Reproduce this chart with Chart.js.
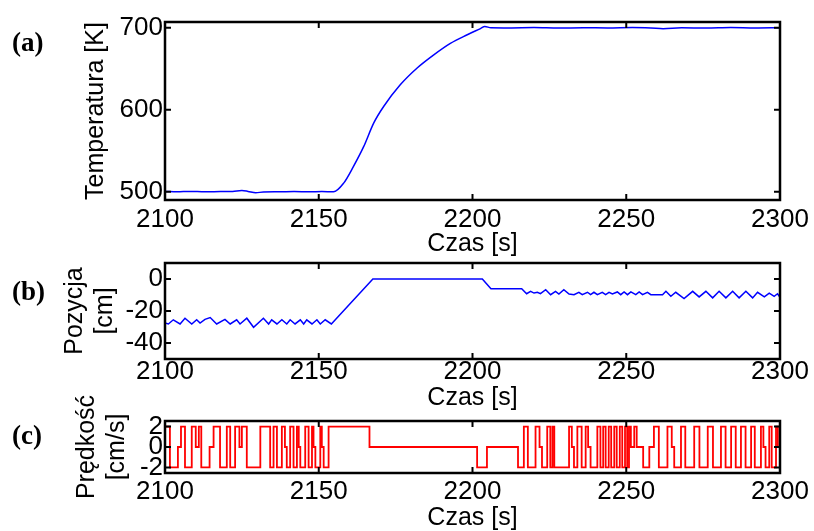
<!DOCTYPE html>
<html>
<head>
<meta charset="utf-8">
<script src="https://cdn.jsdelivr.net/npm/chart.js@4.4.0/dist/chart.umd.min.js"></script>
<style>
  html, body { margin: 0; padding: 0; background: #fff; }
  #wrap { position: relative; width: 814px; height: 531px; overflow: hidden; background: #fff; }
  #wrap canvas { position: absolute; left: 0; top: 0; }
  .tag { position: absolute; left: 12px; font-family: "Liberation Serif", "Times New Roman", serif; font-weight: bold; font-size: 27px; line-height: 1; color: #000; }
</style>
</head>
<body>
<div id="wrap">
  <canvas id="chartA" width="814" height="560"></canvas>
  <canvas id="chartB" width="814" height="560"></canvas>
  <canvas id="chartC" width="814" height="560"></canvas>
  <div class="tag" style="top:29px">(a)</div>
  <div class="tag" style="top:278px">(b)</div>
  <div class="tag" style="top:422px">(c)</div>
</div>
<script>
// --- dane ---
const timeTicks = [2100, 2150, 2200, 2250, 2300];
const tempTicks = [500, 600, 700];
const posTicks = [-40, -20, 0];
const velTicks = [-2, 0, 2];

// (a) temperatura [K]
const tempTime = [2100, 2104, 2108, 2113, 2118, 2122, 2125, 2127, 2129.5, 2132,
  2137, 2142, 2147, 2151, 2154.8, 2158.1, 2161.3, 2164.6, 2167.9, 2171.1,
  2176.5, 2182, 2187.4, 2192.8, 2198.3, 2202.6, 2204, 2206, 2212, 2220,
  2228, 2236, 2244, 2252, 2258, 2262, 2268, 2276, 2284, 2292, 2300];
const tempValue = [500.5, 500, 500.5, 500, 500.3, 500.5, 501.5, 500.5, 498.8, 499.8,
  500, 500.4, 500, 500.3, 500, 510.6, 531, 555, 584, 604,
  630.5, 651, 667, 681, 691.5, 699, 701.5, 700, 699.8, 700.2,
  699.6, 700, 699.8, 700.3, 699.7, 698.8, 700, 699.6, 700.2, 699.7, 700];

// (b) pozycja [cm]
const posTime = [2100, 2101.1, 2102.7, 2104.9, 2106.5, 2108.7, 2110.3, 2111.4, 2113.0, 2114.7,
  2116.8, 2119.5, 2121.2, 2123.3, 2124.4, 2126.6, 2128.8, 2132.0, 2133.7, 2134.7,
  2136.4, 2138.0, 2139.6, 2140.7, 2142.3, 2144.0, 2145.1, 2146.1, 2147.8, 2149.4,
  2150.5, 2152.1, 2154.1, 2167.6, 2203.2, 2206.0, 2216.0, 2217.6, 2218.9, 2220.0,
  2221.1, 2222.1, 2223.8, 2225.4, 2227.0, 2228.1, 2229.7, 2231.4, 2233.0, 2234.6,
  2235.7, 2237.4, 2238.4, 2239.5, 2240.6, 2242.2, 2243.3, 2244.4, 2245.5, 2247.1,
  2248.2, 2249.3, 2250.4, 2251.5, 2253.1, 2254.2, 2255.3, 2256.9, 2258.0, 2261.8,
  2262.9, 2264.5, 2266.1, 2268.8, 2271.6, 2273.7, 2275.9, 2278.1, 2280.2, 2282.4,
  2284.6, 2286.7, 2288.9, 2291.1, 2292.7, 2294.9, 2296.5, 2298.1, 2299.2, 2300];
const posValue = [-27.5, -28.1, -25.5, -28.1, -24.5, -28.1, -25.5, -27.5, -25.2, -24.1,
  -28.1, -25.2, -28.1, -25.5, -28.1, -24.5, -30.2, -24.5, -28.1, -25.5,
  -28.1, -25.5, -28.1, -25.5, -28.1, -25.5, -28.1, -25.5, -28.1, -25.5,
  -28.1, -25.5, -28.1, 0, 0, -6.1, -6.1, -9.2, -7.7, -8.8,
  -8.3, -9.2, -6.7, -9.8, -7.7, -9.4, -6.7, -9.4, -9.8, -8.3,
  -9.8, -8.3, -9.8, -8.3, -9.8, -8.3, -9.8, -8.3, -9.4, -8.1,
  -9.8, -8.1, -9.8, -8.1, -9.8, -8.1, -9.8, -8.3, -9.8, -9.8,
  -7.7, -10.8, -8.3, -12.2, -7.7, -11.2, -7.7, -11.8, -7.7, -11.8,
  -7.7, -11.8, -7.7, -11.8, -8.3, -11.2, -8.8, -10.8, -9.2, -11.5];

// (c) prędkość [cm/s] - chwile przełączeń (wartość obowiązuje od danej chwili)
const velTime = [2100, 2101.6, 2104.2, 2105.2, 2106.5, 2108.7, 2110.0, 2111.0, 2111.8, 2114.5,
  2115.8, 2117.9, 2120.1, 2121.2, 2122.8, 2124.2, 2125.0, 2126.6, 2131.0, 2134.2,
  2135.3, 2136.4, 2138.0, 2139.0, 2139.6, 2140.7, 2141.8, 2142.9, 2143.5, 2144.0,
  2145.6, 2146.7, 2147.8, 2148.3, 2148.9, 2150.5, 2151.0, 2151.6, 2153.2, 2166.5,
  2201.5, 2204.7, 2214.8, 2216.7, 2218.0, 2220.5, 2221.8, 2222.6, 2224.3, 2225.3,
  2226.0, 2226.6, 2231.4, 2232.3, 2233.0, 2234.1, 2235.5, 2236.8, 2237.6, 2238.4,
  2240.6, 2241.6, 2242.5, 2243.3, 2244.3, 2245.1, 2246.1, 2246.9, 2247.9, 2248.7,
  2249.6, 2250.3, 2250.9, 2251.5, 2252.6, 2253.4,
  2255.5, 2257.5, 2259.0, 2260.6, 2263.4, 2264.8, 2265.6, 2267.8, 2269.2, 2272.1,
  2273.8, 2276.5, 2278.2, 2280.8, 2282.3, 2284.1, 2285.6, 2287.3, 2288.8, 2290.6,
  2291.8, 2293.8, 2294.6, 2295.3, 2296.5, 2297.3, 2298.7, 2299.3, 2300];
const velValue = [2, -2, 0, 2, -2, 2, 0, 2, -2, 0,
  2, -2, 2, -2, 2, 0, 2, -2, 2, -2,
  2, -2, 2, 0, -2, 2, -2, 2, 0, -2,
  2, -2, 2, 0, -2, 2, 0, -2, 2, 0,
  -2, 0, -2, 2, -2, 2, 0, -2, 2, -2,
  2, -2, 2, 0, -2, 2, -2, 2, 0, -2,
  2, -2, 2, -2, 2, -2, 2, -2, 2, -2,
  2, -2, 2, 0, 2, 0,
  -2, 0, 2, -2, 2, 0, -2, 2, -2, 2,
  -2, 2, -2, 2, -2, 2, -2, 2, -2, 2,
  -2, 2, 0, -2, 2, -2, 2, 0, 0];

const SANS = '"Liberation Sans", Arial, Helvetica, sans-serif';
const tickFont = { family: SANS, size: 26, lineHeight: 1 };
const titleFont = { family: SANS, size: 25, lineHeight: 1.2 };
const PLOT_LEFT = 165, PLOT_RIGHT = 780, CANVAS_H = 560;

// ramka z wewnętrznymi znacznikami (jak w MATLABie)
const boxPlugin = {
  id: 'box',
  afterDatasetsDraw(chart) {
    const { ctx, chartArea: a, scales: { x, y } } = chart;
    const len = 6;
    ctx.save();
    ctx.strokeStyle = '#000';
    ctx.lineWidth = 2;
    ctx.beginPath();
    x.ticks.forEach(t => {
      const px = x.getPixelForValue(t.value);
      ctx.moveTo(px, a.bottom); ctx.lineTo(px, a.bottom - len);
      ctx.moveTo(px, a.top); ctx.lineTo(px, a.top + len);
    });
    y.ticks.forEach(t => {
      const py = y.getPixelForValue(t.value);
      ctx.moveTo(a.left, py); ctx.lineTo(a.left + len, py);
      ctx.moveTo(a.right, py); ctx.lineTo(a.right - len, py);
    });
    ctx.stroke();
    ctx.lineWidth = 2.5;
    ctx.strokeRect(a.left, a.top, a.right - a.left, a.bottom - a.top);
    ctx.restore();
  }
};

function makePanel(id, p) {
  return new Chart(document.getElementById(id), {
    type: 'line',
    data: {
      datasets: [{
        data: p.time.map((t, i) => ({ x: t, y: p.values[i] })),
        borderColor: p.color,
        borderWidth: p.width || 1.5,
        pointRadius: 0,
        tension: 0,
        cubicInterpolationMode: p.smooth ? 'monotone' : 'default',
        stepped: p.stepped || false
      }]
    },
    options: {
      responsive: false,
      animation: false,
      events: [],
      layout: { padding: { left: 0, top: p.top, right: 814 - PLOT_RIGHT, bottom: CANVAS_H - p.bottom - p.xAxisH } },
      plugins: { legend: { display: false }, tooltip: { enabled: false } },
      scales: {
        x: {
          type: 'linear', min: 2100, max: 2300,
          afterBuildTicks: s => { s.ticks = timeTicks.map(v => ({ value: v })); },
          afterFit: s => { s.height = p.xAxisH; s.paddingLeft = 0; s.paddingRight = 0; },
          grid: { display: false, drawTicks: false },
          border: { display: false },
          ticks: { font: tickFont, color: '#000', padding: p.xTickPad, maxRotation: 0, autoSkip: false, callback: v => String(v) },
          title: { display: true, text: 'Czas [s]', font: titleFont, color: '#000', padding: 0 }
        },
        y: {
          type: 'linear', min: p.yMin, max: p.yMax,
          afterBuildTicks: s => { s.ticks = p.yTicks.map(v => ({ value: v })); },
          afterFit: s => { s.width = PLOT_LEFT; s.paddingTop = 0; s.paddingBottom = 0; },
          grid: { display: false, drawTicks: false },
          border: { display: false },
          ticks: { font: tickFont, color: '#000', padding: 2, autoSkip: false, callback: v => String(v) },
          title: { display: true, text: p.yTitle, font: titleFont, color: '#000', padding: { top: p.yTitlePad, bottom: 0 } }
        }
      }
    },
    plugins: [boxPlugin]
  });
}

makePanel('chartA', {
  time: tempTime, values: tempValue, color: '#0000ff', smooth: true,
  top: 22, bottom: 200, xAxisH: 59, xTickPad: 7,
  yMin: 490, yMax: 707, yTicks: tempTicks,
  yTitle: 'Temperatura [K]', yTitlePad: 81
});

makePanel('chartB', {
  time: posTime, values: posValue, color: '#0000ff',
  top: 263, bottom: 359, xAxisH: 54, xTickPad: 0,
  yMin: -50, yMax: 10, yTicks: posTicks,
  yTitle: ['Pozycja', '[cm]'], yTitlePad: 60
});

makePanel('chartC', {
  time: velTime, values: velValue, color: '#ff0000', width: 1.8, stepped: 'before',
  top: 421, bottom: 473, xAxisH: 60, xTickPad: 6,
  yMin: -2.55, yMax: 2.55, yTicks: velTicks,
  yTitle: ['Prędkość', '[cm/s]'], yTitlePad: 72
});
</script>
</body>
</html>
